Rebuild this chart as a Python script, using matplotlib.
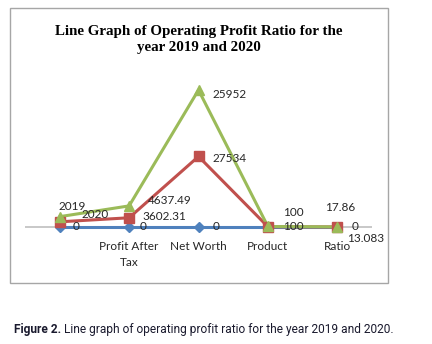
import numpy as np
import matplotlib.pyplot as plt
from matplotlib.patches import Rectangle

# chart data (stacked line chart, as in Excel)
categories = ["", "Profit After\nTax", "Net Worth", "Product", "Ratio"]
blue_vals = [0, 0, 0, 0, 0]
red_vals = [2020, 3602.31, 27534, 100, 17.86]
green_vals = [2019, 4637.49, 25952, 100, 13.083]

blue_labels = ["0", "0", "0", "", "0"]
red_labels = ["2020", "3602.31", "27534", "100", "17.86"]
green_labels = ["2019", "4637.49", "25952", "100", "13.083"]

W, H = 432, 344
fig = plt.figure(figsize=(W / 100, H / 100), dpi=100)

# outer chart border
fig.patches.append(Rectangle((10 / W, 1 - 283 / H), 378 / W, 275 / H,
                             transform=fig.transFigure, fill=False,
                             edgecolor="#a6a6a6", linewidth=1.0))

# axes placed in pixel space: x 25..372, y 60..240
ax = fig.add_axes([25 / W, 1 - 240 / H, 347 / W, 180 / H])

x = np.arange(len(categories))
b = np.array(blue_vals, dtype=float)
r = b + np.array(red_vals)
g = r + np.array(green_vals)

top = g.max()
ax.set_ylim(-top * 13 / 137, top * 167 / 137)
ax.set_xlim(-0.5, len(categories) - 0.5)

ax.axhline(0, color="#bfbfbf", linewidth=1.2, zorder=1)

cols = ["#4f81bd", "#c0504d", "#9bbb59"]
series = [b, r, g]
marks = ["D", "s", "^"]
msz = [5.5, 6.5, 7]
for i in range(3):
    ax.plot(x, series[i], color=cols[i], linewidth=2.2, zorder=2 + i,
            solid_capstyle="round", clip_on=False)
for i in range(3):
    ax.plot(x, series[i], linestyle="none", marker=marks[i], markersize=msz[i],
            color=cols[i], zorder=5 + i, clip_on=False)

lab_font = dict(fontsize=8.5, family=["Lato", "DejaVu Sans"], color="#262626")

# label offsets in pixels (dx, dy)
blue_off = [(13, 0), (11, 0), (14, 0), (0, 0), (14, 1)]
red_off = [(22, 7), (13, 1), (14, -2), (15, 14), (3, 19)]
green_off = [(-1, 10), (19, 5), (14, -4), (15, 0), (10, -12)]

for i in range(len(x)):
    if blue_labels[i]:
        ax.annotate(blue_labels[i], (x[i], b[i]), xytext=blue_off[i],
                    textcoords="offset pixels", ha="left", va="center",
                    zorder=10, **lab_font)
    ha = "center" if i == 4 else "left"
    ax.annotate(red_labels[i], (x[i], r[i]), xytext=red_off[i],
                textcoords="offset pixels", ha=ha, va="center",
                zorder=10, **lab_font)
    ax.annotate(green_labels[i], (x[i], g[i]), xytext=green_off[i],
                textcoords="offset pixels", ha="left", va="center",
                zorder=10, **lab_font)

ax.set_xticks(x)
ax.set_xticklabels(categories, linespacing=1.6, **lab_font)
ax.tick_params(axis="x", length=0, pad=0.5)
ax.set_yticks([])
for s in ax.spines.values():
    s.set_visible(False)
ax.patch.set_alpha(0)

fig.text(199 / W, 1 - 39 / H,
         "Line Graph of Operating Profit Ratio for the\nyear 2019 and 2020",
         ha="center", va="center", fontsize=10.8, fontweight="bold",
         family="Liberation Serif", linespacing=1.3)

# caption: shrink font until it spans the same width as the reference
cap_font = ["Roboto", "DejaVu Sans"]
cap_y = 1 - 330 / H
cap_size = 9.0
for k in range(2):
    t1 = fig.text(14 / W, cap_y, "Figure 2.", ha="left", va="center",
                  fontsize=cap_size, fontweight="bold", family=cap_font,
                  color="#1a1a2e")
    fig.canvas.draw()
    bb = t1.get_window_extent()
    t2 = fig.text((bb.x1 + 3) / W, cap_y,
                  "Line graph of operating profit ratio for the year 2019 and 2020.",
                  ha="left", va="center", fontsize=cap_size, family=cap_font,
                  color="#1a1a2e")
    fig.canvas.draw()
    span = t2.get_window_extent().x1 - 14
    if k == 0:
        t1.remove()
        t2.remove()
        cap_size = cap_size * 382 / span

fig.savefig("out.png", dpi=100)
